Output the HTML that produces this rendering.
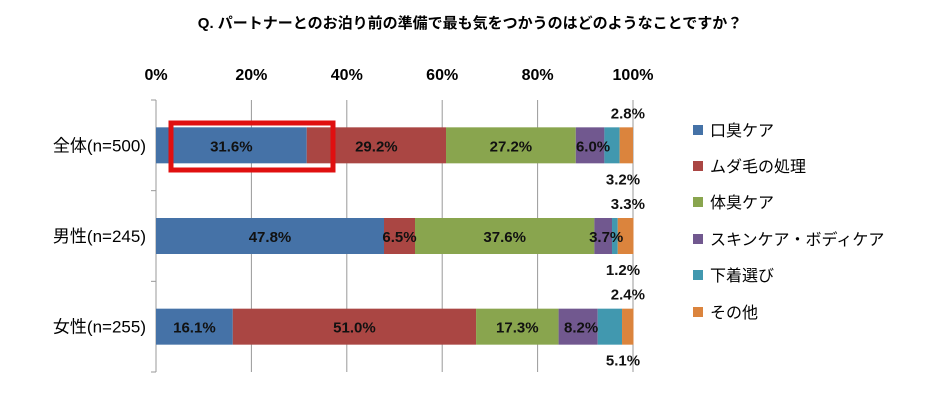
<!DOCTYPE html>
<html><head><meta charset="utf-8"><style>
body{margin:0;background:#fff;width:940px;height:411px;overflow:hidden;font-family:"Liberation Sans","Noto Sans CJK JP",sans-serif;}
</style></head><body>
<svg id="c" width="940" height="411" font-family="Liberation Sans, Noto Sans CJK JP, sans-serif">
<text x="470" y="28" text-anchor="middle" font-size="15" font-weight="bold">Q.  パートナーとのお泊り前の準備で最も気をつかうのはどのようなことですか？</text>
<g id="grid"></g><g id="bars"></g><g id="labels"></g><g id="legend"></g>
<rect x="171" y="123" width="162" height="47" fill="none" stroke="#e01010" stroke-width="5"/>
</svg>
<script>
const categories=["全体(n=500)","男性(n=245)","女性(n=255)"];
const seriesNames=["口臭ケア","ムダ毛の処理","体臭ケア","スキンケア・ボディケア","下着選び","その他"];
const colors=["#4572A7","#AA4643","#89A54E","#71588F","#4198AF","#DB843D"];
const s0=[31.6,47.8,16.1];
const s1=[29.2,6.5,51.0];
const s2=[27.2,37.6,17.3];
const s3=[6.0,3.7,8.2];
const s4=[3.2,1.2,5.1];
const s5=[2.8,3.3,2.4];
const ticks=[0,20,40,60,80,100];
const series=[s0,s1,s2,s3,s4,s5];
const NS="http://www.w3.org/2000/svg";
const X0=156,X1=633,yTop=100,yBot=372;
const xs=v=>X0+(X1-X0)*v/100;
const band=(yBot-yTop)/categories.length;
const bh=36;
function mk(t,a,p){const e=document.createElementNS(NS,t);for(const k in a)e.setAttribute(k,a[k]);p.appendChild(e);return e;}
const g=document.getElementById('grid'),b=document.getElementById('bars'),l=document.getElementById('labels'),lg=document.getElementById('legend');
ticks.forEach(t=>{
 const ln=mk('line',{x1:xs(t),x2:xs(t),y1:yTop,y2:yBot,stroke:'#999','stroke-width':1},g);
 
 
 const tx=mk('text',{x:xs(t),y:80,'text-anchor':'middle','font-size':16,'font-weight':'bold'},g);
 tx.textContent=t+'%';
 
 
});
mk('line',{x1:X0,x2:X0,y1:yTop,y2:yBot,stroke:'#999'},g);
for(let i=0;i<=categories.length;i++){mk('line',{x1:X0-5,x2:X0,y1:yTop+band*i,y2:yTop+band*i,stroke:'#999'},g);}
categories.forEach((c,i)=>{
 const cy=yTop+band*(i+0.5);
 const y=cy-bh/2;
 const ct=mk('text',{x:146,y:cy+6,'text-anchor':'end','font-size':17},l);ct.textContent=c;
 
 
 let acc=0;
 series.forEach((s,j)=>{
  const v=s[i];const x=xs(acc),w=xs(acc+v)-xs(acc);
  const r=mk('rect',{x:x,y:y,width:w,height:bh,fill:colors[j]},b);
  
  
  let tx,ty,anchor='middle';
  if(j<4){tx=x+w/2;ty=cy+6;if(j==3){tx=x+w/2+3;}}
  else if(j==4){tx=X1-10;ty=y+bh+21;}
  else{tx=X1+12;ty=y-9;anchor='end';}
  const t=mk('text',{x:tx,y:ty,'text-anchor':anchor,'font-size':15,'font-weight':'bold',fill:'#111'},l);
  t.textContent=v.toFixed(1)+'%';
  
  
  acc+=v;
 });
});
const ly=[130,166,202,239,275,312];
seriesNames.forEach((n,j)=>{
 const r=mk('rect',{x:693,y:ly[j]-5,width:10,height:10,fill:colors[j]},lg);
 
 
 const t=mk('text',{x:710,y:ly[j]+6,'font-size':16},lg);t.textContent=n;
 
 
});
</script>
</body></html>
